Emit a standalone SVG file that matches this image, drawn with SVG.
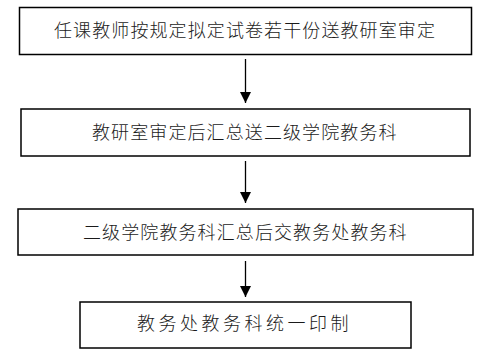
<svg xmlns="http://www.w3.org/2000/svg" width="489" height="358" viewBox="0 0 489 358">
<style>
.box{fill:#fff;stroke:#000;stroke-width:1.5}
.t{font-family:"Noto Sans CJK SC","Noto Sans CJK JP",sans-serif;font-size:18px;font-weight:300;fill:#1a1a1a;letter-spacing:1.1px}
.c{stroke:#000;stroke-width:1.3;fill:none;marker-end:url(#ah)}
</style>
<defs>
<marker id="ah" markerUnits="userSpaceOnUse" markerWidth="12" markerHeight="11" refX="11" refY="5.5" orient="auto">
<path d="M0,0 L11,5.5 L0,11 Z" fill="#000"/>
</marker>
</defs>
<rect width="489" height="358" fill="#fff"/>
<g id="n1"><rect class="box" x="19.5" y="7.5" width="452" height="47"/><text class="t" x="54" y="36.5">任课教师按规定拟定试卷若干份送教研室审定</text></g>
<g id="n2"><rect class="box" x="21" y="109" width="449" height="47"/><text class="t" x="92" y="139">教研室审定后汇总送二级学院教务科</text></g>
<g id="n3"><rect class="box" x="18" y="209" width="455" height="46"/><text class="t" x="83" y="238.5">二级学院教务科汇总后交教务处教务科</text></g>
<g id="n4"><rect class="box" x="80" y="302" width="331" height="46"/><text class="t" x="137" y="330" style="letter-spacing:3.5px">教务处教务科统一印制</text></g>
<g id="connectors">
<line class="c" x1="245.5" y1="59" x2="245.5" y2="103"/>
<line class="c" x1="245.5" y1="161" x2="245.5" y2="203"/>
<line class="c" x1="245.5" y1="261" x2="245.5" y2="297"/>
</g>
</svg>
